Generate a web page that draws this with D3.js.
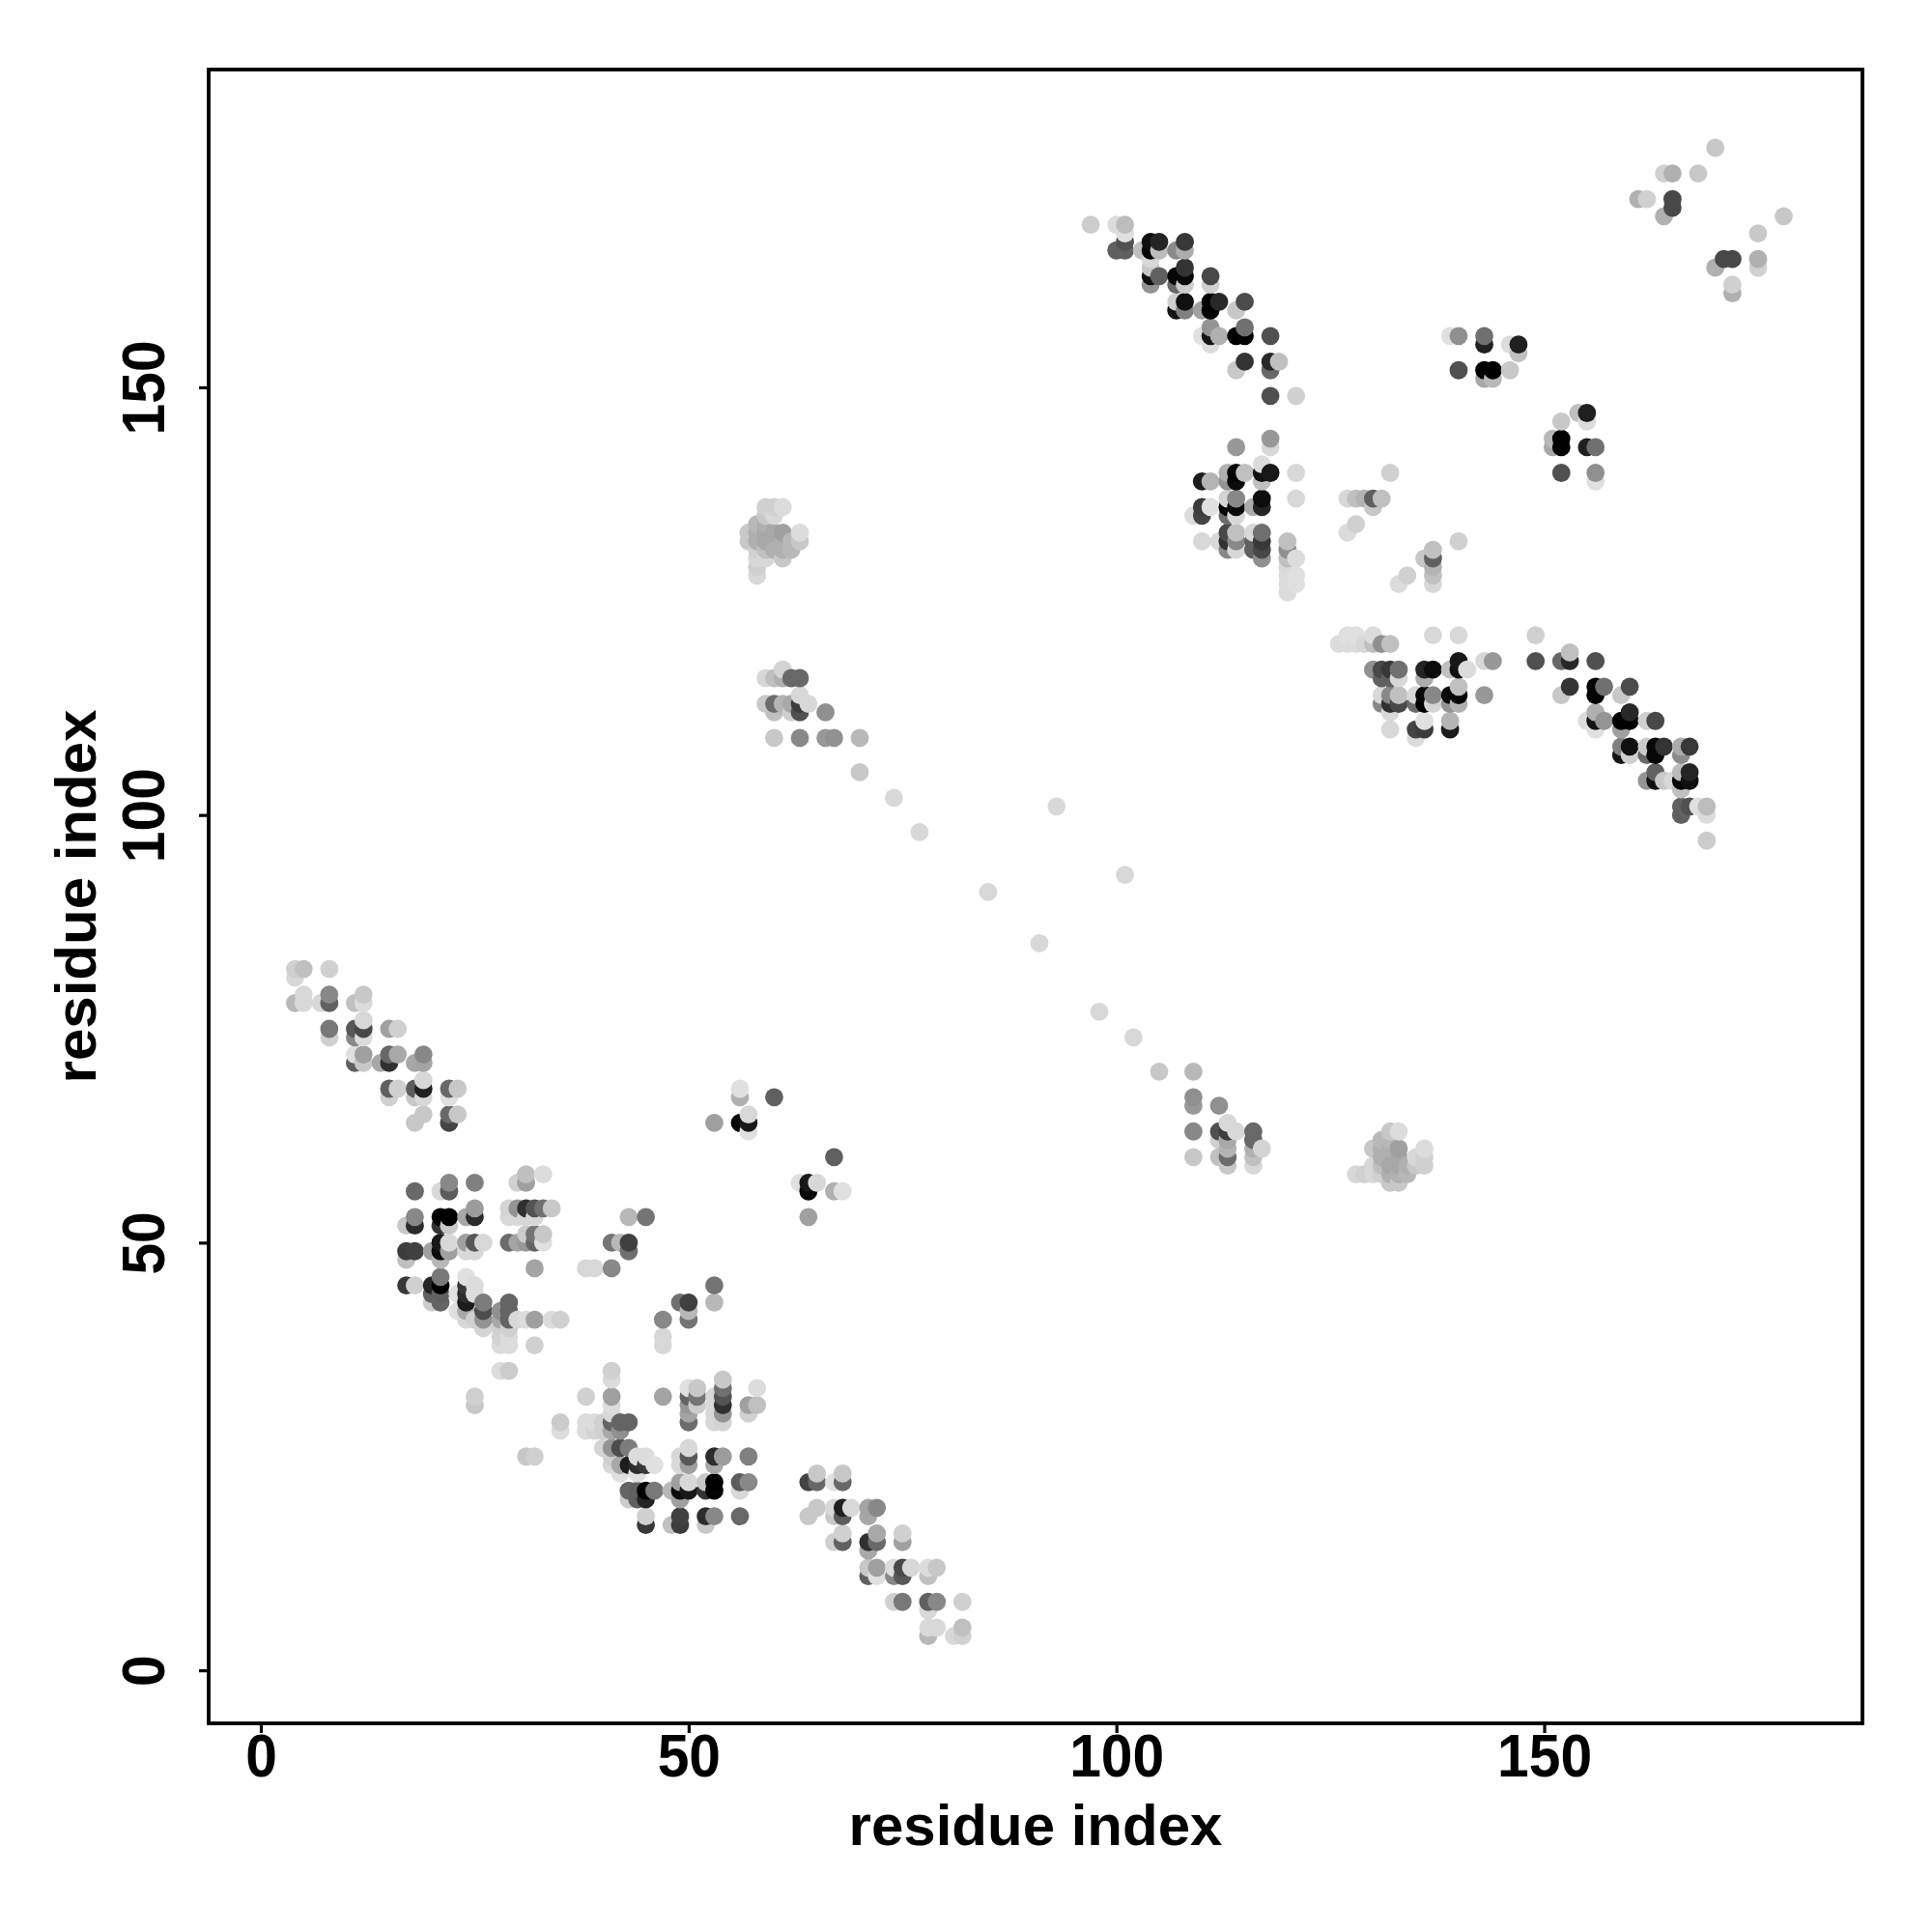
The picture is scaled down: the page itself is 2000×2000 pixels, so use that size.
<!DOCTYPE html>
<html>
<head>
<meta charset="utf-8">
<script src="https://cdn.jsdelivr.net/npm/d3@7"></script>
<style>html,body{margin:0;padding:0;background:#fff}svg{display:block}</style>
</head>
<body>
<script>
// Symmetric contact map: each row lists a residue, its partners with a higher index, and the grey level of each contact.
const residues = [4,5,7,8,11,12,14,15,16,17,18,19,20,21,22,23,24,25,26,28,29,30,31,32,33,34,35,38,39,41,42,43,45,53,56,57,58,59,60,61,62,63,64,66,67,70,74,77,85,93,
  97,100,101,103,104,105,107,108,109,110,111,112,113,114,115,116,117,118,119,120,121,127,128,129,130,131,132,139,140,143,144,146,147,161,162,164,165,168,170];
const partners = [
  [78,81,82],[78,79,82],[78],[74,75,78,79,82],[71,72,74,75,78],[71,72,74,75,76,78,79],[71],[67,68,71,72,75],[68,72,75],
  [45,48,49,52],[45,49,52,53,56,64,67,68,71],[65,67,68,69,71,72],[43,44,45,49],[43,44,45,46,48,49,50,52,53,56],
  [49,50,52,53,56,57,64,65,67,68],[42,44,65,68],[41,42,43,44,45,46,49,50,53],[31,32,41,44,45,49,50,53,54,57],[40,41,42,43,50],
  [35,38,39,40,41,42],[35,38,39,40,41,42,43,50,53,54],[41,50,53,54,57],[41,50,51,53,54,57,58],[38,41,47,50,51,53,54],[50,51,54,58],
  [41,54],[41],[47],[47],[47,50],[50],[49,50,53],[53],[64],[64,67,68],[63,64,65,132,133],
  [128,129,130,131,132,133,134],[113,116,130,131,132,133,134,135,136],[67,109,112,113,116,131,133,135,136],
  [113,116,117,130,131,132,133,136],[112,113,116,131,132],[109,112,113,114,116,132,133],[113],[109,112],[109],[105,109],[102],[98],[91],[101],
  [169],[166,169],[166,167,168,169],[166],[162,163,164,165,166,167],[163,166,167],[159,160,162,163,166],[159,160,162,163,164,166,167],[135],
  [132,135,136,139,156,159],[136,139,155,156,157,159,160,162,163],[132,156,160],[131,132,133,135,136,137,139,140],
  [131,132,133,135,136,137,139,140,143,152,156,159],[140,153,156,157,160],[131,132,133,136],[130,131,132,133,136,137,139,140,141],
  [140,143,144,149,152,153,156],[153],[126,127,128,129,130,131,132],[127,128,130,137,140,149],[133,137],[134,137],[137],[136,137],[137],[140],
  [156],[152,156],[151,152,155,156],[151,152],[152,155],[154,155],[172],[172],[170,175],[171,172,175],[175],[178]
];
const shades = [
  [0xb8,0xd8,0xd0],[0xd8,0xd8,0xc0],[0xd8],[0xd0,0x78,0x60,0x88,0xd0],[0x60,0xe0,0x88,0x58,0xc0],[0xc8,0xa0,0xdc,0x48,0xd8,0xdc,0xc8],[0xa8],[0xd0,0x60,0x30,0x68,0xa0],[0xd0,0xa8,0xd0],
  [0x38,0xc0,0x3c,0xc8],[0xd0,0x40,0x2c,0x88,0x68,0xc8,0xc8,0x5c,0xa8],[0xc8,0xd8,0x20,0xd8,0xa4,0x88],[0xcc,0x60,0x24,0xa0],[0x64,0x60,0x00,0x78,0xb8,0x0c,0x18,0x34,0x04,0xd8],
  [0xa0,0xd8,0xc8,0x00,0x5c,0x88,0x44,0x68,0xe0,0x68],[0xe0,0xe0,0xc8,0xc8],[0xd8,0xa8,0x1c,0x2c,0x38,0xe0,0xd8,0xa0,0xa8],[0xc8,0xd0,0xd0,0xdc,0xdc,0xd8,0x58,0x2c,0x9c,0x80],[0xd4,0x94,0x4c,0x7c,0xd8],
  [0xdc,0xdc,0xd4,0xd0,0xa8,0x90],[0xcc,0xdc,0xdc,0xd0,0x64,0x64,0x64,0x6c,0xd8,0xd4],[0xd8,0xa4,0xd8,0x94,0xd0],[0xdc,0x98,0xcc,0xd8,0x30,0xa0,0xc0],[0xd0,0xa0,0xa4,0x64,0x74,0xd8,0x54],[0xe0,0xc8,0x70,0xdc],
  [0xdc,0xc8],[0xd0],[0xd8],[0xd8],[0x88,0x74],[0xb8],[0x70,0x40,0xb8],[0x74],[0xa0],[0x08,0xb0,0xe0],[0xe0,0x18,0xd8,0xc8,0xc8],
  [0xd8,0xd0,0xd8,0xd0,0xb0,0xb0,0xb8],[0xc8,0xd8,0xd8,0xc0,0xa8,0xa8,0xb0,0xc8,0xd0],[0x60,0xc8,0xc0,0x6c,0xc0,0xb0,0xa8,0xd8,0xd0],
  [0xb4,0xb0,0xd4,0xc8,0xb0,0xb0,0xa0,0xdc],[0xd0,0xa8,0x68,0xb8,0xb8],[0x88,0x50,0x3c,0xd8,0x68,0xc8,0xdc],[0xd8],[0x98,0x90],[0x90],[0xc8,0xb8],[0xd8],[0xd8],[0xd8],[0xd8],
  [0xcc],[0x60,0xdc],[0x60,0x50,0xe0,0xbc],[0xc0],[0x94,0x10,0xc8,0xd8,0x04,0x10],[0x60,0xbc,0x24],[0x14,0xd0,0x68,0x08,0x8c],[0x80,0x10,0xcc,0x08,0x34,0xac,0x38],[0xdc],
  [0xd8,0x44,0x3c,0x1c,0xe0,0xa0],[0xe0,0xb4,0xdc,0x14,0x94,0x00,0x00,0xd0,0x48],[0xd8,0xb0,0x28],[0x88,0x30,0x48,0x6c,0x00,0xd4,0x94,0xb0],
  [0xd8,0x88,0xc0,0xd8,0x08,0x88,0x0c,0x04,0x98,0xc8,0x00,0xc8],[0xc0,0x34,0x04,0x70,0x4c],[0x60,0x60,0xd8,0xac],[0x90,0x48,0x38,0x70,0x24,0x0c,0xc0,0x10,0xdc],
  [0x18,0xd8,0x98,0x50,0x68,0x28,0x50],[0xc0],[0xdc,0xdc,0xdc,0xd8,0xc0,0x90,0xc0],[0xe0,0xe0,0xdc,0xd8,0xd8,0xd0],[0xdc,0xd8],[0xd0,0xc0],[0xb4],[0xc8,0x60],[0xc0],[0xd0],
  [0xe0],[0x50,0x90],[0xa8,0x00,0x20,0x70],[0xb8,0x00],[0xc8,0xdc],[0xc0,0x20],[0xb0],[0xd0],[0xb0,0xd0],[0x48,0x48,0xb0],[0xc8],[0xc8]
];
const tickValues = [0,50,100,150];
const axisLabel = "residue index";

const contacts = [];
residues.forEach((r,k) => partners[k].forEach((p,m) => {
  contacts.push({x:r,y:p,g:shades[k][m]});
  contacts.push({x:p,y:r,g:shades[k][m]});
}));
contacts.sort((a,b) => d3.ascending(a.x,b.x) || d3.ascending(a.y,b.y));

const svg = d3.select("body").append("svg").attr("width",2000).attr("height",2000);
const x = d3.scaleLinear().domain([-6.1,187.2]).range([216,1928]);
const y = d3.scaleLinear().domain([-6.2,187.15]).range([1784,72]);
const font = "'Liberation Sans',Arial,sans-serif";

svg.append("g").selectAll("circle").data(contacts).join("circle")
  .attr("cx",d=>x(d.x)).attr("cy",d=>y(d.y)).attr("r",9.4)
  .attr("fill",d=>d3.rgb(d.g,d.g,d.g));

svg.append("rect").attr("x",216).attr("y",72).attr("width",1712).attr("height",1712)
  .attr("fill","none").attr("stroke","#000").attr("stroke-width",3.8);

const gx = svg.append("g").attr("transform","translate(0,1784)")
  .call(d3.axisBottom(x).tickValues(tickValues).tickSize(10));
gx.select(".domain").remove();
gx.selectAll("line").attr("stroke","#000").attr("stroke-width",3.2);
gx.selectAll("text").attr("font-family",font).attr("font-weight",700).attr("font-size",60).attr("fill","#000")
  .attr("y",0).attr("dy",0).attr("transform","translate(0,55) scale(.98,1.06)");

const gy = svg.append("g").attr("transform","translate(216,0)")
  .call(d3.axisLeft(y).tickValues(tickValues).tickSize(10));
gy.select(".domain").remove();
gy.selectAll("line").attr("stroke","#000").attr("stroke-width",3.2);
gy.selectAll("text")
  .attr("font-family",font).attr("font-weight",700).attr("font-size",60).attr("fill","#000")
  .attr("text-anchor","middle").attr("dy",0).attr("x",null)
  .attr("transform","translate(-46,0) rotate(-90) scale(.98,1.06)");

svg.append("text").attr("x",1072).attr("y",1910).attr("text-anchor","middle")
  .attr("font-family",font).attr("font-weight",700).attr("font-size",60).text(axisLabel);
svg.append("text").attr("transform","translate(99,928) rotate(-90)").attr("text-anchor","middle")
  .attr("font-family",font).attr("font-weight",700).attr("font-size",60).text(axisLabel);
</script>
</body>
</html>
